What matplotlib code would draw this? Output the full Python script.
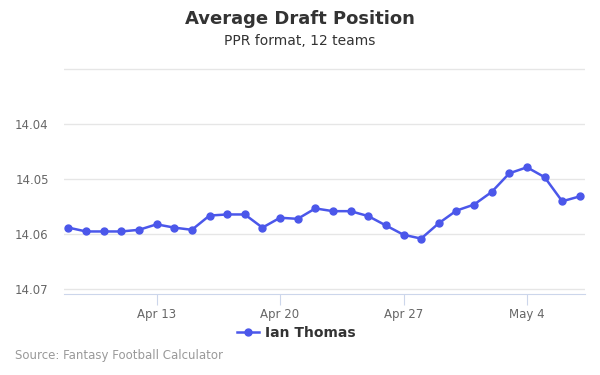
import matplotlib
matplotlib.use('Agg')
from matplotlib import pyplot as plt
import matplotlib.dates as mdates
import numpy as np
import pandas as pd

dates = pd.date_range('2019-04-08', '2019-05-07', freq='D')
adp = [14.0589, 14.0596, 14.0596, 14.0596, 14.0593, 14.0583, 14.0589, 14.0593,
       14.0567, 14.0565, 14.0565, 14.0589, 14.0571, 14.0573, 14.0554, 14.0559,
       14.0559, 14.0568, 14.0585, 14.0602, 14.0609, 14.0581, 14.0558, 14.0547,
       14.0524, 14.0490, 14.0479, 14.0497, 14.0541, 14.0532]
player = 'Ian Thomas'
y_ticks = [14.03, 14.04, 14.05, 14.06, 14.07]
y_labels = ['', '14.04', '14.05', '14.06', '14.07']
x_ticks = ['2019-04-13', '2019-04-20', '2019-04-27', '2019-05-04']

color = '#4b57ea'

fig = plt.figure(figsize=(6, 3.75), dpi=100)
ax = fig.add_axes([0.1067, 0.216, 0.8683, 0.6027])

ax.plot(dates, adp, color=color, lw=1.8, marker='o', ms=5, label=player)

ax.set_ylim(14.071, 14.0298)
ax.set_yticks(y_ticks)
ax.set_yticklabels(y_labels)
ax.set_xlim(dates[0] - pd.Timedelta(hours=6), dates[-1] + pd.Timedelta(hours=7))
ax.set_xticks(pd.to_datetime(x_ticks))
ax.xaxis.set_major_formatter(mdates.DateFormatter('%b %-d'))

ax.grid(axis='y', color='#e6e6e6', lw=1)
ax.set_axisbelow(True)
for s in ['top', 'left', 'right']:
    ax.spines[s].set_visible(False)
ax.spines['bottom'].set_color('#ccd6eb')
ax.tick_params(axis='y', length=0, labelsize=8.5, labelcolor='#666666', pad=11)
ax.tick_params(axis='x', length=8, color='#ccd6eb', labelsize=8.5,
               labelcolor='#666666', pad=2)

fig.text(0.5, 0.948, 'Average Draft Position', ha='center', va='center',
         fontsize=13, fontweight='bold', color='#333333')
fig.text(0.5, 0.891, 'PPR format, 12 teams', ha='center', va='center',
         fontsize=10, color='#333333')
fig.text(0.025, 0.051, 'Source: Fantasy Football Calculator', ha='left',
         va='center', fontsize=8.5, color='#999999')

leg = fig.legend(loc='center', bbox_to_anchor=(0.494, 0.112), frameon=False,
                 handlelength=1.6, handletextpad=0.4,
                 prop={'weight': 'bold', 'size': 10})
for t in leg.get_texts():
    t.set_color('#333333')

fig.savefig('out.png', dpi=100)
